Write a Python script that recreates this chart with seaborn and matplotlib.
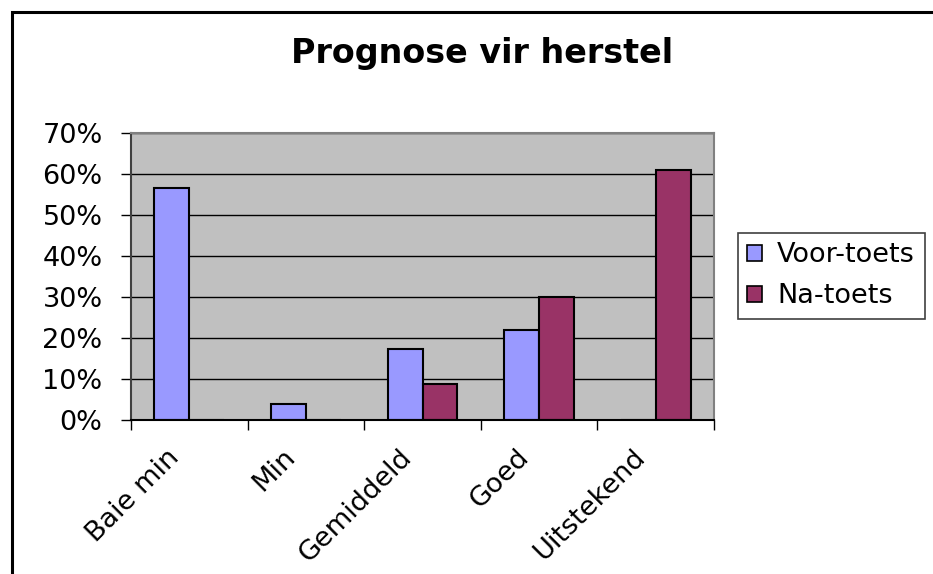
import seaborn as sns
import matplotlib.pyplot as plt
import pandas as pd
from matplotlib.patches import Patch, Rectangle
from matplotlib.ticker import PercentFormatter, FixedLocator
from matplotlib.transforms import ScaledTranslation

# values (percent)
categories = ['Baie min', 'Min', 'Gemiddeld', 'Goed', 'Uitstekend']
series_names = ['Voor-toets', 'Na-toets']
voor_toets = [56.7, 4.0, 17.2, 22.0, 0.0]
na_toets = [0.0, 0.0, 8.7, 30.0, 61.0]
y_ticks = [0, 10, 20, 30, 40, 50, 60, 70]

colours = {'Voor-toets': '#9999FF', 'Na-toets': '#993366'}

# long form table for seaborn
df = pd.DataFrame({
    'kategorie': categories * 2,
    'reeks': [series_names[0]] * len(categories) + [series_names[1]] * len(categories),
    'waarde': voor_toets + na_toets,
})

sns.set_theme(style='white')
plt.rcParams['font.family'] = ['DejaVu Sans']
plt.rcParams['text.color'] = 'black'
plt.rcParams['xtick.color'] = 'black'
plt.rcParams['ytick.color'] = 'black'

fig = plt.figure(figsize=(9.33, 5.74), dpi=100)
ax = fig.add_axes([131 / 933, 1 - 420 / 574, 583 / 933, 287 / 574])
ax.set_facecolor('#C0C0C0')

sns.barplot(data=df, x='kategorie', y='waarde', hue='reeks', order=categories,
            hue_order=series_names, palette=colours, saturation=1, width=0.6,
            edgecolor='black', linewidth=1.5, ax=ax, legend=False)

ax.set_xlim(-0.5, len(categories) - 0.5)
ax.set_ylim(0, 70)
ax.set_yticks(y_ticks)
ax.yaxis.set_major_formatter(PercentFormatter(100, decimals=0))
ax.yaxis.grid(True, color='black', linewidth=1)
ax.set_axisbelow(True)
ax.set_xlabel('')
ax.set_ylabel('')

# spines like the old spreadsheet plot area
for side in ['top', 'right']:
    ax.spines[side].set_color('#808080')
    ax.spines[side].set_linewidth(1.5)
ax.spines['left'].set_color('#404040')
ax.spines['left'].set_linewidth(1.5)
ax.spines['bottom'].set_color('black')
ax.spines['bottom'].set_linewidth(1.5)

ax.tick_params(axis='y', direction='out', length=7.5, width=1, color='black',
               pad=13, labelsize=19.5, labelcolor='black', left=True)
# ticks between categories, labels at the centres
ax.xaxis.set_minor_locator(FixedLocator([i - 0.5 for i in range(len(categories) + 1)]))
ax.tick_params(axis='x', which='minor', direction='out', length=7.5, width=1,
               color='black', bottom=True)
ax.tick_params(axis='x', which='major', length=0, pad=24, labelsize=19.5,
               labelcolor='black')
shift = ScaledTranslation(-14 / 100, 0, fig.dpi_scale_trans)
for lab in ax.get_xticklabels():
    lab.set_rotation(45)
    lab.set_ha('right')
    lab.set_va('center')
    lab.set_rotation_mode('anchor')
    lab.set_transform(lab.get_transform() + shift)

fig.text(482 / 933, 1 - 63 / 574, 'Prognose vir herstel', ha='center',
         va='baseline', fontsize=24, fontweight='bold', color='black')

handles = [Patch(facecolor=colours[n], edgecolor='black', linewidth=1.2, label=n)
           for n in series_names]
leg = fig.legend(handles=handles, loc='upper left',
                 bbox_to_anchor=(738 / 933, 1 - 233 / 574), fontsize=19.5,
                 frameon=True, fancybox=False, framealpha=1, borderaxespad=0,
                 borderpad=0.35, handlelength=0.55, handleheight=0.55,
                 handletextpad=0.55, labelspacing=0.55)
leg.get_frame().set_edgecolor('#404040')
leg.get_frame().set_linewidth(1.2)
for t in leg.get_texts():
    t.set_color('black')

# outer border of the chart, cut off on the right and bottom
fig.patches.append(Rectangle((12 / 933, -0.1), 1.1, 1.1 - 12 / 574, fill=False,
                             edgecolor='black', linewidth=2.2,
                             transform=fig.transFigure, clip_on=False))

fig.savefig('out.png', dpi=100)
